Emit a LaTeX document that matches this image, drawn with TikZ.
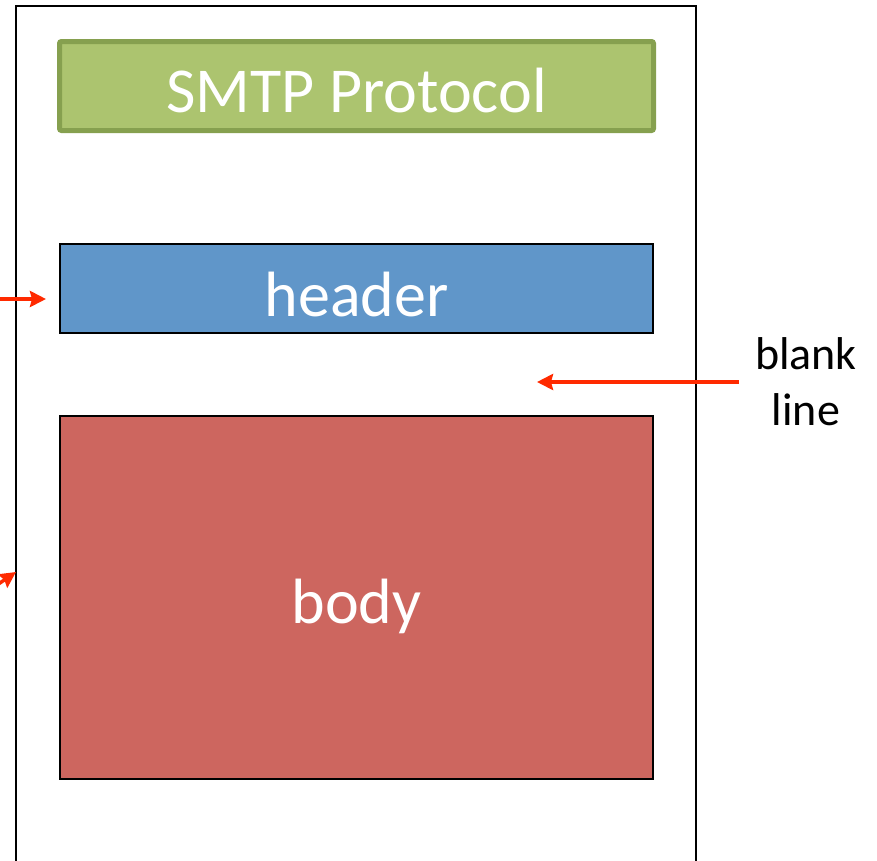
\documentclass[tikz,border=0pt]{standalone}
\usepackage{fontspec}
\setmainfont{Carlito}
\usetikzlibrary{arrows.meta}
\definecolor{boxgreen}{HTML}{ACC46F}
\definecolor{boxgreenedge}{HTML}{86A04F}
\definecolor{boxblue}{HTML}{6096C9}
\definecolor{boxred}{HTML}{CD665F}
\definecolor{arrowred}{HTML}{FF2A00}
\newcommand{\lowertext}[2]{\raisebox{-#1}[\height][\depth]{#2}}
\tikzset{
  pbox/.style={rectangle, draw=black, line width=2pt, minimum width=593pt, text=white, font=\fontsize{64}{70}\selectfont, inner sep=0pt},
  redarrow/.style={draw=arrowred, line width=3.5pt, -{Stealth[length=16pt,width=16pt,inset=2pt]}},
  side/.style={font=\fontsize{46}{56}\selectfont, align=center, inner sep=0pt}
}
\begin{document}
\begin{tikzpicture}[x=1pt,y=-1pt]
\path[use as bounding box] (0,0) rectangle (877,860);
\clip (0,0) rectangle (877,860);
\draw[line width=2.8pt] (16,900) -- (16,6) -- (696,6) -- (696,900);
\node[pbox, fill=boxgreen, draw=boxgreenedge, line width=5pt, minimum width=594pt, minimum height=89pt, rounded corners=2pt] (smtp) at (356.5,86) {\lowertext{5pt}{SMTP Protocol}};
\node[pbox, fill=boxblue, minimum height=89pt] (header) at (356.5,288.5) {\lowertext{6pt}{header}};
\node[pbox, fill=boxred, minimum height=363pt] (body) at (356.5,597.5) {\lowertext{9pt}{body}};
\node[side] (blank) at (806,382) {blank\\line};
\coordinate (blankstart) at (739,382);
\coordinate (blankend) at (537,382);
\coordinate (hstart) at (-10,299);
\coordinate (hend) at (46,299);
\coordinate (bstart) at (-25,600);
\coordinate (bend) at (16,572);
\draw[redarrow] (blankstart) -- (blankend);
\draw[redarrow] (hstart) -- (hend);
\draw[redarrow] (bstart) -- (bend);
\end{tikzpicture}
\end{document}
